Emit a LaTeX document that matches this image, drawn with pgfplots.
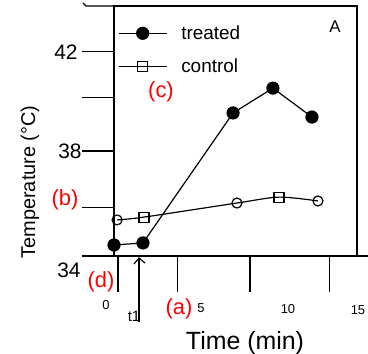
\documentclass[border=0pt]{standalone}
\usepackage{pgfplots}
\pgfplotsset{compat=1.18}
\usepackage{fontspec}
\setmainfont{Liberation Sans}
\begin{document}
\begin{tikzpicture}[x=1bp,y=1bp]
\useasboundingbox (0,0) rectangle (368,354);
\begin{axis}[
  at={(114bp,98bp)}, anchor=south west,
  scale only axis, width=243bp, height=250bp,
  xmin=0, xmax=15, ymin=34, ymax=43.77,
  clip=false,
  axis line style={line width=1.4bp},
  tick pos=left, tick align=outside,
  ytick={34,35.9,38.1,40.2,42}, yticklabels={},
  major tick length=32bp,
  every tick/.style={black, line width=1.3bp},
  xtick=\empty,
  extra x ticks={0.25,3.9,8.4,13.3}, extra x tick labels={},
  extra x tick style={major tick length=36bp},
  legend style={at={(0.016,0.93)}, anchor=north west, draw=none, fill=none,
    inner sep=0pt, font=\fontsize{19}{21}\selectfont, row sep=14bp,
    cells={anchor=west},
    /tikz/every odd column/.append style={column sep=12bp}},
  legend image code/.code={\draw[mark repeat=2,mark phase=2] plot coordinates {(0bp,0bp) (24bp,0bp) (48bp,0bp)};},
]
\addplot[black, line width=1.2bp, mark=*, mark size=6bp]
  coordinates {(0,34.43) (1.79,34.51) (7.35,39.59) (9.81,40.56) (12.22,39.43)};
\addlegendentry{treated}
\addlegendimage{black, line width=1.2bp, mark=square, mark size=5bp, mark options={fill=white}}
\addlegendentry{control}
\addplot[black, line width=1.2bp, smooth, forget plot]
  coordinates {(0.19,35.41) (1.85,35.52) (7.59,36.07) (10.19,36.30) (12.59,36.15)};
\addplot[only marks, black, mark=square, mark size=5bp, mark options={fill=white, line width=1.2bp}, forget plot]
  coordinates {(1.85,35.52) (10.19,36.30)};
\addplot[only marks, black, mark=o, mark size=5bp, mark options={fill=white, line width=1.2bp}, forget plot]
  coordinates {(0.19,35.41) (7.59,36.07) (12.59,36.15)};
\end{axis}
% hand-drawn frame and extensions
\draw[line width=1.6bp, black] (114,348) -- (357,348) -- (357,98);
\draw[line width=1.4bp] (83,351) -- (86,348) -- (114,348);
\draw[line width=1.4bp] (357,98) -- (368,98);
\draw[line width=1.2bp] (139,32) -- (139,96);
\draw[line width=1.2bp] (134,90) -- (139,96) -- (145,91);
% tick labels
\node[font=\fontsize{21}{23}\selectfont] at (66,302) {42};
\node[font=\fontsize{21}{23}\selectfont] at (70,203) {38};
\node[font=\fontsize{21}{23}\selectfont] at (69,84) {34};
\node[font=\fontsize{13}{15}\selectfont] at (106,49) {0};
\node[font=\fontsize{15}{17}\selectfont] at (134,38) {t1};
\node[font=\fontsize{13}{15}\selectfont] at (201,46) {5};
\node[font=\fontsize{13}{15}\selectfont] at (288,45) {10};
\node[font=\fontsize{13}{15}\selectfont] at (358,44) {15};
% axis titles
\node[font=\fontsize{25}{27}\selectfont] at (245,11) {Time (min)};
\node[font=\fontsize{20}{22}\selectfont, rotate=90] at (30,172) {Temperature (°C)};
\node[font=\fontsize{17}{19}\selectfont] at (335,327) {A};
% red annotations
\node[red, font=\fontsize{22}{24}\selectfont] at (161,262) {(c)};
\node[red, font=\fontsize{22}{24}\selectfont] at (65,154) {(b)};
\node[red, font=\fontsize{22}{24}\selectfont] at (101,72) {(d)};
\node[red, font=\fontsize{22}{24}\selectfont] at (179,45) {(a)};
\end{tikzpicture}
\end{document}
